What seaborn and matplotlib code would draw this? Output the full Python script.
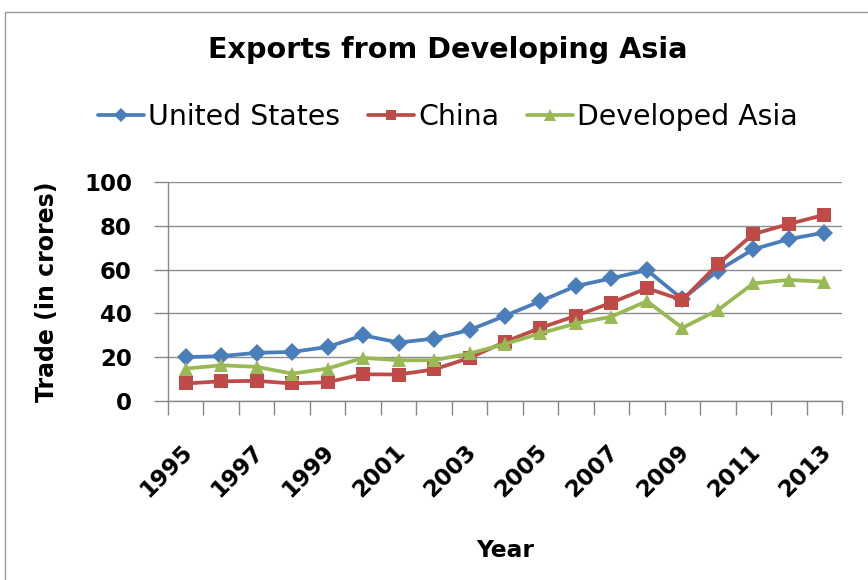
import matplotlib
matplotlib.use("Agg")
import matplotlib.pyplot as plt
from matplotlib.patches import Rectangle
from matplotlib.ticker import FixedLocator
from matplotlib.transforms import ScaledTranslation
import seaborn as sns
import pandas as pd

years = list(range(1995, 2014))
united_states = [20, 20.5, 22, 22.4, 24.7, 30, 26.7, 28.5, 32.4, 38.9,
                 45.6, 52.5, 56, 59.8, 46.5, 59.5, 69.3, 73.9, 76.9]
china = [8, 9, 9.2, 8, 8.6, 12.2, 12.1, 14.4, 19.7, 27,
         33.4, 38.9, 44.9, 51.5, 46.1, 62.4, 76.2, 80.8, 85]
developed_asia = [14.8, 16.3, 15.6, 12.5, 14.8, 19.7, 18.6, 18.6, 21.7, 26,
                  30.9, 35.4, 38.5, 45.6, 33.4, 41.5, 53.7, 55.3, 54.5]
series_names = ["United States", "China", "Developed Asia"]
y_ticks = [0, 20, 40, 60, 80, 100]
x_labels = list(range(1995, 2014, 2))

df = pd.DataFrame({
    "Year": years * 3,
    "Trade": united_states + china + developed_asia,
    "Series": [n for n in series_names for _ in years],
})

sns.set_theme(style="white")
plt.rcParams["font.family"] = ["DejaVu Sans"]
plt.rcParams["text.color"] = "black"
plt.rcParams["axes.labelcolor"] = "black"
plt.rcParams["xtick.labelcolor"] = "black"
plt.rcParams["ytick.labelcolor"] = "black"

fig = plt.figure(figsize=(8.68, 5.80), dpi=100)
ax = fig.add_axes([168 / 868, 1 - 401 / 580, (842 - 168) / 868, (401 - 182) / 580])

palette = {"United States": "#4A7EBB", "China": "#BE4B48", "Developed Asia": "#98B954"}
markers = {"United States": "D", "China": "s", "Developed Asia": "^"}
sizes = {"United States": 9, "China": 9.5, "Developed Asia": 10}

sns.lineplot(data=df, x="Year", y="Trade", hue="Series", style="Series",
             hue_order=series_names, style_order=series_names,
             palette=palette, markers=markers, dashes=False,
             linewidth=2.7, markeredgewidth=0, ax=ax, legend=False)
for line, name in zip(ax.lines, series_names):
    line.set_markersize(sizes[name])
    line.set_label(name)

ax.set_xlim(1994.5, 2013.5)
ax.set_ylim(0, 100)
ax.set_yticks(y_ticks)
ax.set_yticklabels([str(v) for v in y_ticks], fontsize=16.5, fontweight="bold")
ax.xaxis.set_major_locator(FixedLocator(x_labels))
ax.set_xticklabels([str(v) for v in x_labels], fontsize=16.5, fontweight="bold",
                   rotation=45, ha="right", va="top", rotation_mode="anchor")
ax.xaxis.set_minor_locator(FixedLocator([y + 0.5 for y in range(1994, 2014)]))
ax.tick_params(axis="x", which="major", length=0, pad=28)
ax.tick_params(axis="x", which="minor", length=10, width=1, color="#888888", bottom=True)
ax.tick_params(axis="y", which="major", length=10, width=1, color="#888888", left=True, pad=16)
# nudge the slanted year labels slightly to the left
shift = ScaledTranslation(-5 / 100, 0, fig.dpi_scale_trans)
for lbl in ax.get_xticklabels():
    lbl.set_transform(lbl.get_transform() + shift)

ax.grid(axis="y", color="#8c8c8c", linewidth=1)
ax.grid(axis="x", visible=False)
for side in ["top", "right"]:
    ax.spines[side].set_visible(False)
for side in ["left", "bottom"]:
    ax.spines[side].set_color("#888888")
    ax.spines[side].set_linewidth(1)

ax.set_xlabel("Year", fontsize=16.8, fontweight="bold", labelpad=27)
ax.set_ylabel("Trade (in crores)", fontsize=17, fontweight="bold", labelpad=18)

fig.text(448 / 868, 1 - 50 / 580, "Exports from Developing Asia", ha="center", va="center",
         fontsize=20.6, fontweight="bold")

handles = ax.lines[:3]
fig.legend(handles, series_names, loc="center", bbox_to_anchor=(448 / 868, 1 - 117 / 580),
           ncol=3, frameon=False, fontsize=20.4, handlelength=1.6, handletextpad=0.15,
           columnspacing=1.0, markerscale=0.8)

fig.patches.append(Rectangle((5 / 868, -0.1), 1.2, 1.1 - 12 / 580, transform=fig.transFigure,
                             fill=False, edgecolor="#999999", linewidth=1))

fig.savefig("out.png", dpi=100)
